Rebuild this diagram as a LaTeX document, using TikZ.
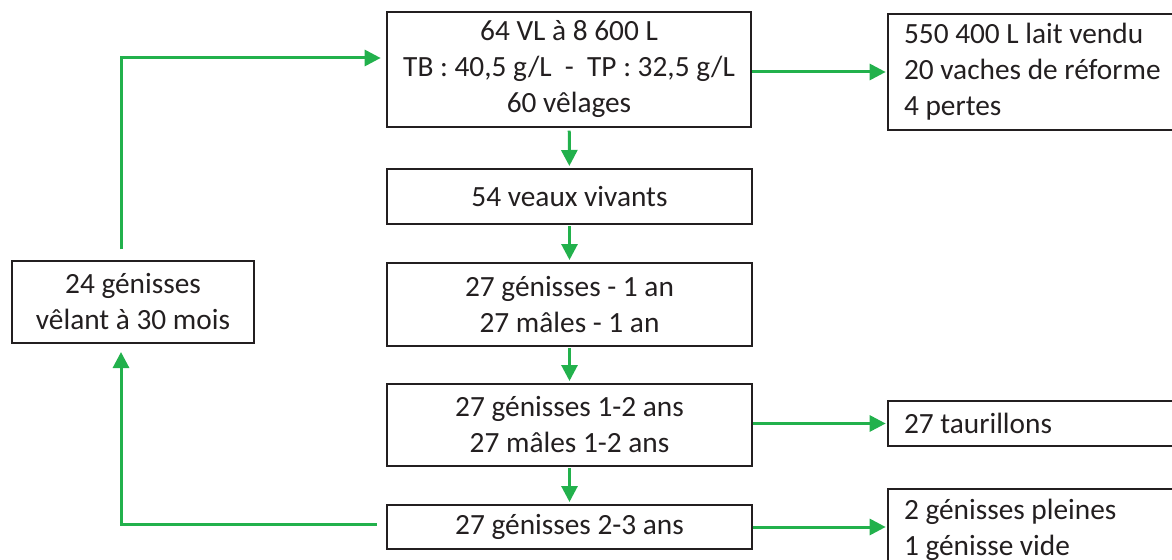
\documentclass[tikz,border=0pt]{standalone}
\usepackage{fontspec}
\setmainfont{Carlito}
\usetikzlibrary{arrows.meta}
\definecolor{flow}{RGB}{34,177,76}
\definecolor{ink}{RGB}{35,31,32}
\begin{document}
\begin{tikzpicture}[x=0.75pt,y=-0.75pt,
  font=\fontsize{22}{27}\selectfont,
  box/.style={draw=ink, line width=1.5pt, inner sep=0pt, align=center, text=ink},
  outbox/.style={draw=ink, line width=1.5pt, align=flush left, text width=201pt,
    inner xsep=12pt, inner ysep=0pt, minimum width=225pt, text=ink},
  flowarrow/.style={draw=flow, line width=2.25pt, -{Triangle[length=12pt,width=12pt]}}]
\path[use as bounding box] (0,0) rectangle (1172,560);
\clip (0,0) rectangle (1172,560);

% central chain of the herd
\node[box, minimum width=273pt, minimum height=86.25pt] (herd) at (569,69.5)
  {64 VL à 8 600 L\\TB : 40,5 g/L~~-~~TP : 32,5 g/L\\60 vêlages};
\node[box, minimum width=273.75pt, minimum height=41.25pt] (calves) at (569.5,196.5)
  {54 veaux vivants};
\node[box, minimum width=273.75pt, minimum height=62.25pt] (year1) at (569.5,304.5)
  {27 génisses - 1 an\\27 mâles - 1 an};
\node[box, minimum width=273.75pt, minimum height=61.5pt] (year2) at (569.5,425)
  {27 génisses 1-2 ans\\27 mâles 1-2 ans};
\node[box, minimum width=273.75pt, minimum height=33pt] (year3) at (569.5,527)
  {27 génisses 2-3 ans};

% replacement heifers
\node[box, minimum width=181.5pt, minimum height=61.5pt] (calving) at (133,302)
  {24 génisses\\vêlant à 30 mois};

% outputs
\node[outbox, minimum height=87pt, anchor=west] (sales) at (887,72)
  {550 400 L lait vendu\\20 vaches de réforme\\4 pertes};
\node[outbox, minimum height=33.75pt, anchor=west] (bulls) at (887,423.5)
  {27 taurillons};
\node[outbox, minimum height=60.75pt, anchor=north west] (surplus) at (887,488)
  {2 génisses pleines\\1 génisse vide};

% loop corners
\coordinate (loopTop) at (121,58);
\coordinate (loopBot) at (121,524);

% connectors
\draw[flowarrow, shorten <=2pt, shorten >=1.5pt] (herd) -- (calves);
\draw[flowarrow, shorten <=1pt, shorten >=1.5pt] (calves) -- (year1);
\draw[flowarrow, shorten <=1pt, shorten >=1.5pt] (year1) -- (year2);
\draw[flowarrow, shorten <=1pt, shorten >=1.5pt] (year2) -- (year3);

\draw[flowarrow, shorten >=1pt] (sales.west -| herd.east) -- (sales.west);
\draw[flowarrow, shorten >=1pt] (bulls.west -| year2.east) -- (bulls.west);
\draw[flowarrow, shorten >=1pt] (year3.east) -- (year3.east -| surplus.west);

\draw[flowarrow, shorten <=8pt, shorten >=4pt]
  (calving.north -| loopTop) -- (loopTop) -- (loopTop -| herd.west);
\draw[flowarrow, shorten <=7pt, shorten >=6pt]
  (loopBot -| year3.west) -- (loopBot) -- (calving.south -| loopBot);
\end{tikzpicture}
\end{document}
